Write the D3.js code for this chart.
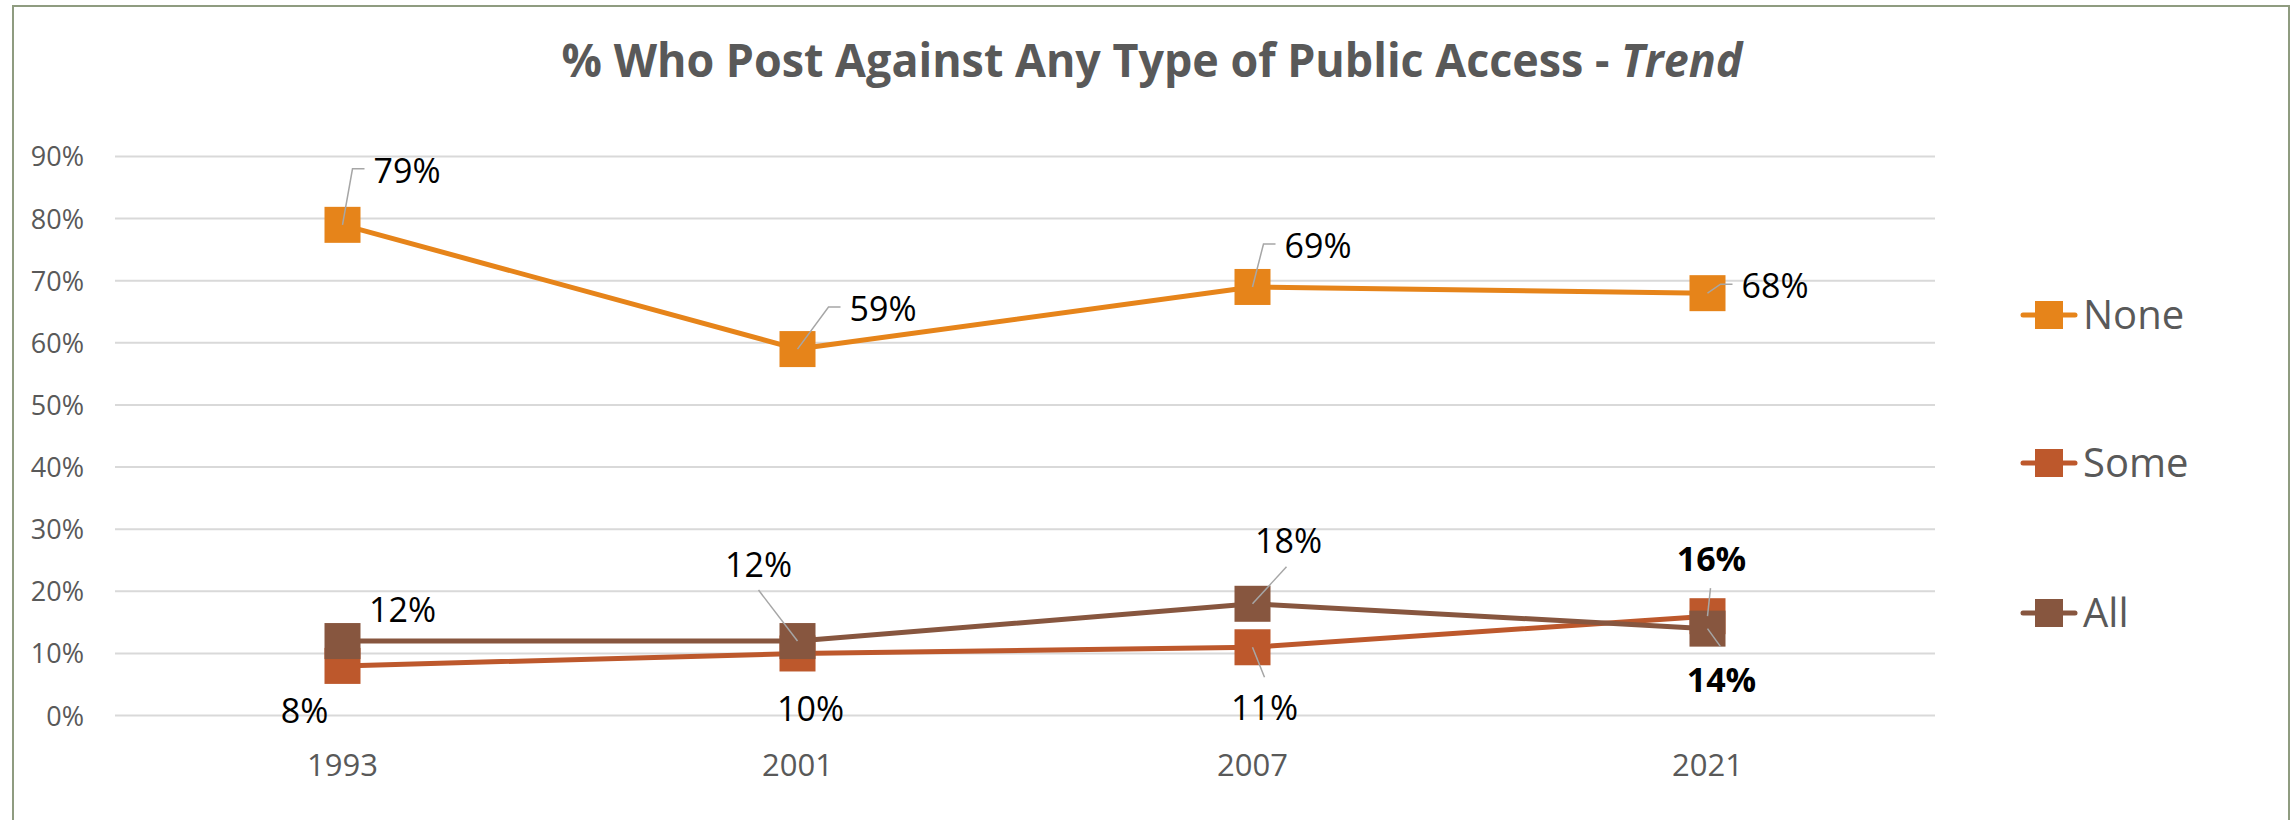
<!DOCTYPE html>
<html>
<head>
<meta charset="utf-8">
<script src="https://cdn.jsdelivr.net/npm/d3@7"></script>
<style>
  html, body { margin: 0; padding: 0; background: #fff; }
  svg { display: block; }
</style>
</head>
<body>
<svg id="chart" width="2295" height="820"></svg>
<script>
// ---- data ----
const categories = ["1993", "2001", "2007", "2021"];
const seriesNames = ["None", "Some", "All"];
const noneValues = [0.79, 0.59, 0.69, 0.68];
const someValues = [0.08, 0.10, 0.11, 0.16];
const allValues  = [0.12, 0.12, 0.18, 0.14];
const yTicks = [0, 0.1, 0.2, 0.3, 0.4, 0.5, 0.6, 0.7, 0.8, 0.9];
const titleMain = "% Who Post Against Any Type of Public Access - ";
const titleItalic = "Trend";

// ---- styling / layout (not data) ----
const colors = { None: "#E6841A", Some: "#BD582C", All: "#87563F" };
const boldLabels = { Some: [false, false, false, true], All: [false, false, false, true], None: [false, false, false, false] };
// label placement relative to the point: anchor, dx, dy (baseline), leader type and end
const labelLayout = {
  None: [
    { anchor: "start",  dx: 31,  dy: -42, leader: "elbow" },
    { anchor: "start",  dx: 52,  dy: -28, leader: "elbow" },
    { anchor: "start",  dx: 32,  dy: -29, leader: "elbow" },
    { anchor: "start",  dx: 34,  dy: 5,   leader: "elbow" }
  ],
  Some: [
    { anchor: "middle", dx: -38, dy: 57,  leader: null },
    { anchor: "middle", dx: 13,  dy: 68,  leader: null },
    { anchor: "middle", dx: 12,  dy: 73,  leader: [12, 30] },
    { anchor: "middle", dx: 4,   dy: -45, leader: [3, -28] }
  ],
  All: [
    { anchor: "middle", dx: 60,  dy: -19, leader: null },
    { anchor: "middle", dx: -39, dy: -64, leader: [-39, -51] },
    { anchor: "middle", dx: 36,  dy: -51, leader: [34, -37] },
    { anchor: "middle", dx: 14,  dy: 63,  leader: [13, 18] }
  ]
};

const font = "'Open Sans', 'DejaVu Sans', sans-serif";
const svg = d3.select("#chart");

// outer border
svg.append("rect")
  .attr("x", 13).attr("y", 6)
  .attr("width", 2276).attr("height", 830)
  .attr("fill", "#fff")
  .attr("stroke", "#8f9c80").attr("stroke-width", 2);

// title (condensed horizontally with a transform to mimic the narrow original face)
const titleG = svg.append("g");
const title = titleG.append("text")
  .attr("x", 0).attr("y", 0)
  .attr("text-anchor", "middle")
  .attr("font-family", font)
  .attr("font-weight", "bold")
  .attr("font-size", 47)
  .attr("fill", "#595959");
title.append("tspan").text(titleMain);
title.append("tspan").attr("font-style", "italic").text(titleItalic);
const tw = title.node().getComputedTextLength();
const sx = Math.min(1, 1181 / tw);
titleG.attr("transform", `translate(1152,77) scale(${sx},1)`);

// scales
const plotLeft = 115, plotRight = 1935;
const x = d3.scaleBand().domain(categories).range([plotLeft, plotRight]).paddingInner(0).paddingOuter(0);
const cx = c => x(c) + x.bandwidth() / 2;
const y = d3.scaleLinear().domain([0, 0.9]).range([715.6, 156.5]);

// gridlines
svg.append("g").selectAll("line").data(yTicks).join("line")
  .attr("x1", plotLeft).attr("x2", plotRight)
  .attr("y1", d => y(d)).attr("y2", d => y(d))
  .attr("stroke", "#d9d9d9").attr("stroke-width", 2);

// y axis labels
const yAxis = d3.axisLeft(y).tickValues(yTicks).tickFormat(d3.format(".0%")).tickSize(0).tickPadding(0);
const yg = svg.append("g").attr("transform", "translate(84,0)").call(yAxis);
yg.select(".domain").remove();
yg.selectAll("text")
  .attr("font-family", font).attr("font-size", 27).attr("fill", "#595959")
  .attr("dy", "0.35em");

// x axis labels
const xAxis = d3.axisBottom(x).tickSize(0).tickPadding(0);
const xg = svg.append("g").attr("transform", "translate(0,754)").call(xAxis);
xg.select(".domain").remove();
xg.selectAll("text")
  .attr("font-family", font).attr("font-size", 31).attr("fill", "#595959")
  .attr("dy", "0.71em");

// series
const seriesData = { None: noneValues, Some: someValues, All: allValues };
const line = d3.line().x((d, i) => cx(categories[i])).y(d => y(d));
const markerSize = 36;

seriesNames.forEach(name => {
  const vals = seriesData[name];
  const g = svg.append("g");
  g.append("path").datum(vals)
    .attr("d", line)
    .attr("fill", "none")
    .attr("stroke", colors[name])
    .attr("stroke-width", 5)
    .attr("stroke-linejoin", "round");
  g.selectAll("rect").data(vals).join("rect")
    .attr("x", (d, i) => cx(categories[i]) - markerSize / 2)
    .attr("y", d => y(d) - markerSize / 2)
    .attr("width", markerSize).attr("height", markerSize)
    .attr("fill", colors[name]);
});

// data labels (drawn after all series)
seriesNames.forEach(name => {
  const vals = seriesData[name];
  vals.forEach((v, i) => {
    const px = cx(categories[i]), py = y(v);
    const L = labelLayout[name][i];
    const tx = px + L.dx, ty = py + L.dy;
    if (L.leader === "elbow") {
      const ly = ty - 14;
      svg.append("path")
        .attr("d", `M${px},${py}L${tx - 21},${ly}L${tx - 9},${ly}`)
        .attr("fill", "none").attr("stroke", "#a6a6a6").attr("stroke-width", 1.5);
    } else if (L.leader) {
      svg.append("line")
        .attr("x1", px).attr("y1", py)
        .attr("x2", px + L.leader[0]).attr("y2", py + L.leader[1])
        .attr("stroke", "#a6a6a6").attr("stroke-width", 1.5);
    }
    svg.append("text")
      .attr("x", tx).attr("y", ty)
      .attr("text-anchor", L.anchor)
      .attr("font-family", font)
      .attr("font-size", 34)
      .attr("font-weight", boldLabels[name][i] ? "bold" : "normal")
      .attr("fill", "#000")
      .text(d3.format(".0%")(v));
  });
});

// legend
const legendY = [315, 463, 613];
seriesNames.forEach((name, i) => {
  const g = svg.append("g").attr("transform", `translate(2021,${legendY[i]})`);
  g.append("line").attr("x1", 2).attr("x2", 54).attr("y1", 0).attr("y2", 0)
    .attr("stroke", colors[name]).attr("stroke-width", 5).attr("stroke-linecap", "round");
  g.append("rect").attr("x", 14).attr("y", -14).attr("width", 28).attr("height", 28)
    .attr("fill", colors[name]);
  g.append("text").attr("x", 62).attr("y", 14)
    .attr("font-family", font).attr("font-size", 40).attr("fill", "#595959")
    .text(name);
});
</script>
</body>
</html>
